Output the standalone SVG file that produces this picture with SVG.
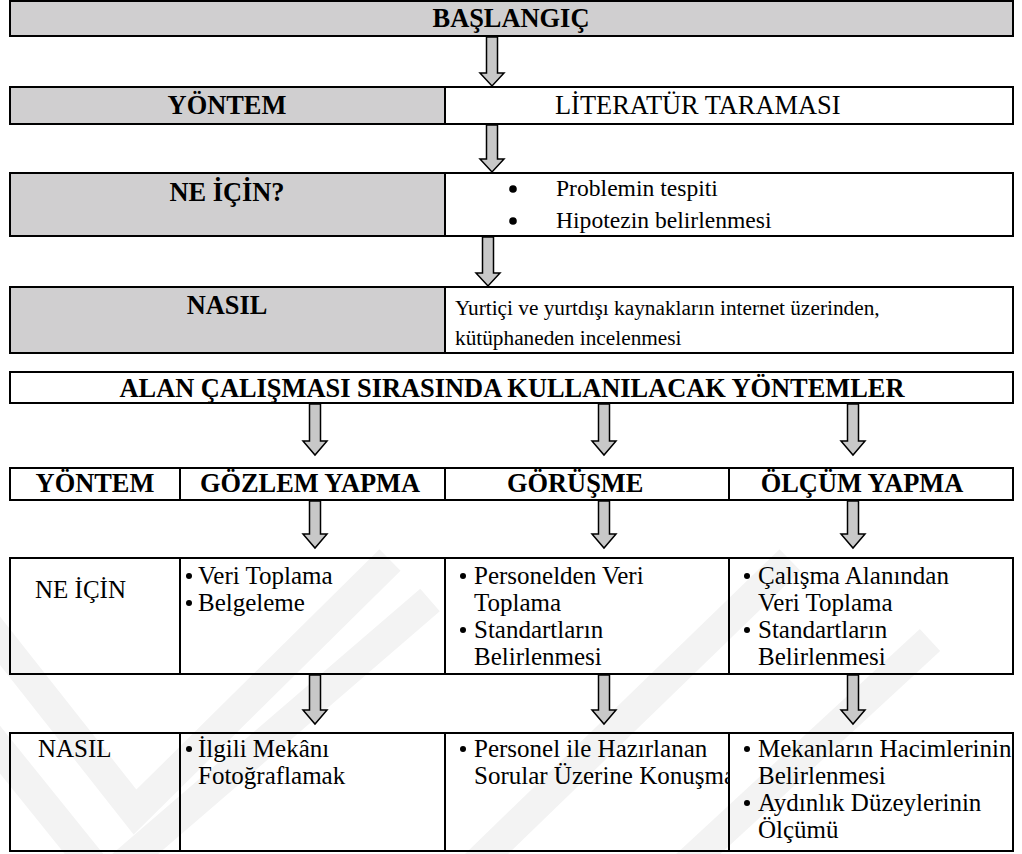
<svg xmlns="http://www.w3.org/2000/svg" width="1022" height="854" viewBox="0 0 1022 854">
  <style>
    .bg{fill:#fff}
    .cell{stroke:#000;stroke-width:2}
    .gray{fill:#d0cfd0}
    .white{fill:#fff}
    .open{fill:none}
    .arrow{fill:#c8c8c8;stroke:#000;stroke-width:1.5;stroke-linejoin:miter}
    .wm{fill:none;stroke:#f3f3f3;stroke-width:30;stroke-linejoin:miter}
    text{font-family:'Liberation Serif','Times New Roman',serif;fill:#000}
    .h{font-weight:bold;font-size:26.4px}
    .m{font-size:26.4px}
    .s{font-size:23.6px}
    .xs{font-size:21.3px}
    .t{font-size:25px}
    .c{text-anchor:middle}
    .dot{fill:#000}
  </style>
  <defs>
    <clipPath id="clipCol3"><rect x="446" y="733" width="283" height="118"/></clipPath>
  </defs>

  <rect class="bg" x="0" y="0" width="1022" height="854"/>

  <!-- faint background emblem -->
  <g id="watermark">
    <polyline class="wm" points="-40,590 135,812 390,560"/>
    <polyline class="wm" points="-40,700 105,880 430,600"/>
    <polyline class="wm" points="470,870 790,560"/>
    <polyline class="wm" points="670,880 930,640"/>
  </g>

  <!-- upper flow -->
  <g id="start">
    <rect class="cell gray" x="10" y="1" width="1003" height="35"/>
    <text class="h c" x="511" y="27">BAŞLANGIÇ</text>
  </g>

  <g id="method">
    <rect class="cell gray" x="10" y="87" width="435" height="37"/>
    <rect class="cell white" x="445" y="87" width="568" height="37"/>
    <text class="h c" x="227" y="114">YÖNTEM</text>
    <text class="m" x="555" y="114">LİTERATÜR TARAMASI</text>
  </g>

  <g id="why">
    <rect class="cell gray" x="10" y="173" width="435" height="63"/>
    <rect class="cell white" x="445" y="173" width="568" height="63"/>
    <text class="h c" x="227" y="201">NE İÇİN?</text>
    <circle class="dot" cx="513" cy="189" r="3.8"/>
    <text class="s" x="556" y="196">Problemin tespiti</text>
    <circle class="dot" cx="513" cy="221" r="3.8"/>
    <text class="s" x="556" y="228">Hipotezin belirlenmesi</text>
  </g>

  <g id="how">
    <rect class="cell gray" x="10" y="287" width="435" height="66"/>
    <rect class="cell white" x="445" y="287" width="568" height="66"/>
    <text class="h c" x="227" y="314">NASIL</text>
    <text class="xs" x="455" y="315">Yurtiçi ve yurtdışı kaynakların internet üzerinden,</text>
    <text class="xs" x="455" y="345">kütüphaneden incelenmesi</text>
  </g>

  <!-- field study methods -->
  <g id="field-methods">
    <rect class="cell open" x="10" y="372" width="1003" height="31"/>
    <text class="h c" x="512" y="397">ALAN ÇALIŞMASI SIRASINDA KULLANILACAK YÖNTEMLER</text>
  </g>

  <g id="method-row">
    <rect class="cell open" x="10" y="468" width="170" height="32"/>
    <rect class="cell open" x="180" y="468" width="265" height="32"/>
    <rect class="cell open" x="445" y="468" width="284" height="32"/>
    <rect class="cell open" x="729" y="468" width="284" height="32"/>
    <text class="h c" x="95" y="492">YÖNTEM</text>
    <text class="h c" x="310" y="492">GÖZLEM YAPMA</text>
    <text class="h" x="507" y="492">GÖRÜŞME</text>
    <text class="h c" x="862" y="492">ÖLÇÜM YAPMA</text>
  </g>

  <g id="why-row">
    <rect class="cell open" x="10" y="558" width="170" height="116"/>
    <rect class="cell open" x="180" y="558" width="265" height="116"/>
    <rect class="cell open" x="445" y="558" width="284" height="116"/>
    <rect class="cell open" x="729" y="558" width="284" height="116"/>
    <text class="t" x="35" y="598">NE İÇİN</text>

    <circle class="dot" cx="189" cy="576" r="3"/>
    <text class="t" x="198" y="584">Veri Toplama</text>
    <circle class="dot" cx="189" cy="603" r="3"/>
    <text class="t" x="198" y="611">Belgeleme</text>

    <circle class="dot" cx="463" cy="576" r="3"/>
    <text class="t" x="474" y="584">Personelden Veri</text>
    <text class="t" x="474" y="611">Toplama</text>
    <circle class="dot" cx="463" cy="630" r="3"/>
    <text class="t" x="474" y="638">Standartların</text>
    <text class="t" x="474" y="665">Belirlenmesi</text>

    <circle class="dot" cx="747" cy="576" r="3"/>
    <text class="t" x="758" y="584">Çalışma Alanından</text>
    <text class="t" x="758" y="611">Veri Toplama</text>
    <circle class="dot" cx="747" cy="630" r="3"/>
    <text class="t" x="758" y="638">Standartların</text>
    <text class="t" x="758" y="665">Belirlenmesi</text>
  </g>

  <g id="how-row">
    <rect class="cell open" x="10" y="733" width="170" height="118"/>
    <rect class="cell open" x="180" y="733" width="265" height="118"/>
    <rect class="cell open" x="445" y="733" width="284" height="118"/>
    <rect class="cell open" x="729" y="733" width="284" height="118"/>
    <text class="t" x="38" y="757">NASIL</text>

    <circle class="dot" cx="189" cy="749" r="3"/>
    <text class="t" x="198" y="757">İlgili Mekânı</text>
    <text class="t" x="198" y="784">Fotoğraflamak</text>

    <g clip-path="url(#clipCol3)">
      <circle class="dot" cx="463" cy="749" r="3"/>
      <text class="t" x="474" y="757">Personel ile Hazırlanan</text>
      <text class="t" x="474" y="784">Sorular Üzerine Konuşma</text>
    </g>

    <circle class="dot" cx="747" cy="749" r="3"/>
    <text class="t" x="758" y="757">Mekanların Hacimlerinin</text>
    <text class="t" x="758" y="784">Belirlenmesi</text>
    <circle class="dot" cx="747" cy="803" r="3"/>
    <text class="t" x="758" y="811">Aydınlık Düzeylerinin</text>
    <text class="t" x="758" y="838">Ölçümü</text>
  </g>

  <!-- block arrows -->
  <g id="connectors">
    <path class="arrow" d="M486.5,37 H497.5 V73 H504 L492,86 L480,73 H486.5 Z"/>
    <path class="arrow" d="M486.5,125 H497.5 V159 H504 L492,172 L480,159 H486.5 Z"/>
    <path class="arrow" d="M482.5,237 H493.5 V273 H500 L488,286 L476,273 H482.5 Z"/>

    <path class="arrow" d="M309.5,404 H320.5 V441 H327 L315,455 L303,441 H309.5 Z"/>
    <path class="arrow" d="M598.5,404 H609.5 V441 H616 L604,455 L592,441 H598.5 Z"/>
    <path class="arrow" d="M847.5,404 H858.5 V441 H865 L853,455 L841,441 H847.5 Z"/>

    <path class="arrow" d="M309.5,501 H320.5 V534 H327 L315,548 L303,534 H309.5 Z"/>
    <path class="arrow" d="M598.5,501 H609.5 V534 H616 L604,548 L592,534 H598.5 Z"/>
    <path class="arrow" d="M847.5,501 H858.5 V534 H865 L853,548 L841,534 H847.5 Z"/>

    <path class="arrow" d="M309.5,675 H320.5 V710 H327 L315,724 L303,710 H309.5 Z"/>
    <path class="arrow" d="M598.5,675 H609.5 V710 H616 L604,724 L592,710 H598.5 Z"/>
    <path class="arrow" d="M847.5,675 H858.5 V710 H865 L853,724 L841,710 H847.5 Z"/>
  </g>
</svg>
